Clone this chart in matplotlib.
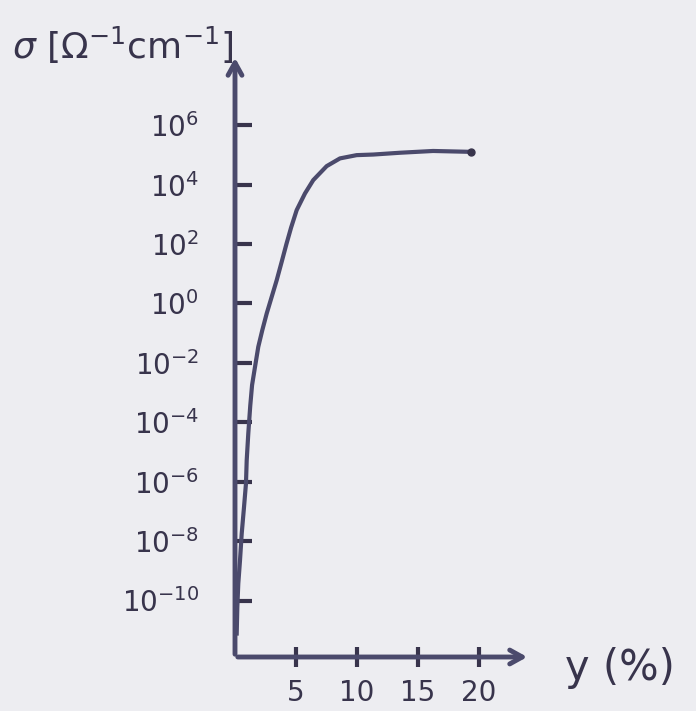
import numpy as np
import matplotlib.pyplot as plt

# 读图得到的数据: 掺杂量 y (%) 与 电导率的对数 log10(σ)
dope_pct = [0.14, 0.19, 0.27, 0.41, 0.55, 0.74, 0.90, 0.96, 1.09, 1.25, 1.40, 1.64, 1.91,
            2.24, 2.60, 3.01, 3.42, 3.83, 4.22, 4.60, 5.06, 5.74, 6.42, 7.52, 8.61, 9.98,
            11.34, 13.52, 16.25, 19.40]
log_sigma = [-11.11, -10.22, -9.43, -8.65, -7.75, -6.85, -6.06, -5.28, -4.38, -3.45, -2.75,
             -2.14, -1.46, -0.90, -0.34, 0.22, 0.78, 1.40, 2.00, 2.55, 3.14, 3.70, 4.15,
             4.62, 4.88, 4.99, 5.01, 5.07, 5.13, 5.10]
sigma = 10.0 ** np.array(log_sigma)

x_ticks = [5, 10, 15, 20]
y_exps = [-10, -8, -6, -4, -2, 0, 2, 4, 6]
y_ticks = [10.0 ** e for e in y_exps]
y_ticklabels = [f'$10^{{{e}}}$' for e in y_exps]

ink = '#4b4a6c'
dark = '#38344c'
paper = '#ededf1'

fig = plt.figure(figsize=(6.96, 7.11), dpi=100, facecolor=paper)
ax = fig.add_axes([235 / 696, 54 / 711, 295 / 696, 602 / 711])
ax.set_facecolor(paper)

ax.plot(dope_pct, sigma, color=ink, linewidth=3, solid_joinstyle='round')
ax.plot(dope_pct[-1], sigma[-1], 'o', color=dark, markersize=5)

ax.set_yscale('log')
ax.set_xlim(0, 24.2)
ax.set_ylim(10.0 ** -11.9, 10.0 ** 8.36)

ax.set_xticks(x_ticks)
ax.set_xticklabels([str(v) for v in x_ticks])
ax.set_yticks(y_ticks)
ax.set_yticklabels(y_ticklabels)
ax.minorticks_off()
ax.tick_params(axis='y', direction='in', length=12, width=3, color=dark, pad=26,
               labelsize=20, labelcolor=dark)
ax.tick_params(axis='x', direction='inout', length=14, width=3, color=dark, pad=9,
               labelsize=20, labelcolor=dark)

for s in ax.spines.values():
    s.set_visible(False)

# 坐标轴画成带箭头的线
ax.annotate('', xy=(0, 1), xytext=(0, 0), xycoords='axes fraction',
            arrowprops=dict(arrowstyle='->,head_length=0.9,head_width=0.5', lw=3.5, color=ink))
ax.annotate('', xy=(1, 0), xytext=(0, 0), xycoords='axes fraction',
            arrowprops=dict(arrowstyle='->,head_length=0.9,head_width=0.5', lw=3.5, color=ink))

fig.text(12 / 696, 1 - 45 / 711, r'$\sigma$ [$\Omega^{-1}$cm$^{-1}$]', fontsize=26,
         color=dark, ha='left', va='center')
fig.text(565 / 696, 1 - 668 / 711, 'y (%)', fontsize=30, color=dark, ha='left', va='center')

fig.savefig('out.png', dpi=100, facecolor=paper)
